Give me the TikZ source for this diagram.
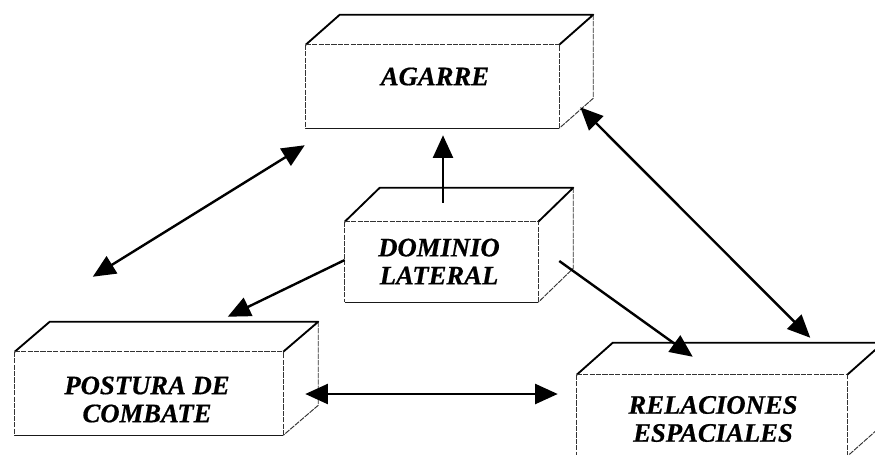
\documentclass[tikz,border=0pt]{standalone}
\usepackage{fontspec}
\setmainfont{Liberation Serif}[BoldItalicFeatures={FakeBold=0.6}]
\usetikzlibrary{arrows.meta,calc}

% Edges of a box: the node is the front face, (#2,#3) is the depth offset
\newcommand\blockedges[3]{%
  \draw[rim] (#1.north west) -- ++(#2,#3) coordinate (#1-btl)
    -- ($(#1.north east)+(#2,#3)$) coordinate (#1-btr) -- (#1.north east);
  \draw[seam] (#1.north west) -- (#1.north east);
  \draw[seam] (#1.north west) -- (#1.south west);
  \draw[base edge] (#1.south west) -- (#1.south east);
  \draw[seam] (#1.south east) -- (#1.north east);
  \draw[seam] (#1-btr) -- ($(#1.south east)+(#2,#3)$) -- (#1.south east);
}

\tikzset{
  face/.style={draw=none, inner sep=0pt, minimum width=#1},
  rim/.style={line width=1.4pt, black, line join=round},
  seam/.style={line width=0.7pt, black!80, dash pattern=on 4pt off 0.8pt},
  base edge/.style={line width=1pt, black!90},
  lbl/.style={font=\fontsize{20}{21}\selectfont\bfseries\itshape, align=center, inner sep=0pt},
  tip/.style={},
  link/.style={line width=1.8pt, -{Triangle[length=17pt,width=15pt]}},
  bilink/.style={line width=1.8pt, {Triangle[length=17pt,width=15pt]}-{Triangle[length=17pt,width=15pt]}},
}

\begin{document}
\begin{tikzpicture}[x=0.75pt, y=-0.75pt]
  \clip (0,0) rectangle (875,454);
  \fill[white] (0,0) rectangle (875,454);

  % front faces of the four boxes
  \node[face=189.75pt, minimum height=62.25pt] (agarre) at (432.5,86.5) {};
  \node[face=144.75pt, minimum height=60pt] (dominio) at (441.5,262) {};
  \node[face=201pt, minimum height=62.25pt] (postura) at (149,393.5) {};
  \node[face=202.5pt, minimum height=60.75pt] (relaciones) at (712,415.5) {};

  \blockedges{agarre}{34}{-30}
  \blockedges{dominio}{35}{-34}
  \blockedges{postura}{35}{-30}
  \blockedges{relaciones}{36}{-32}

  % labels
  \node[lbl] (agarre-t) at (435,76.5) {AGARRE};
  \node[lbl] (dominio-t) at (439,261.5) {DOMINIO\\LATERAL};
  \node[lbl] (postura-t) at (147,399.5) {POSTURA DE\\COMBATE};
  \node[lbl] (relaciones-t) at (713,419) {RELACIONES\\ESPACIALES};

  % connectors
  \draw[bilink] ($(postura.north west)+(78,-75)$) -- ($(agarre.south west)+(-1,17)$);
  \draw[link] ($(dominio.west)+(0,-2)$) -- ($(postura.north west)+(213,-35)$);
  \draw[link] ($(dominio.north)+(1.5,-19)$) -- ($(agarre.south)+(10.5,7)$);
  \draw[link] ($(dominio.east)+(21,-1)$) -- ($(relaciones.north west)+(116,-18)$);
  \draw[bilink] ($(agarre.south east)+(21,-21)$) -- ($(relaciones.north east)+(-37,-37)$);
  \draw[bilink] ($(postura.east)+(22,0.5)$) -- ($(relaciones.west)+(-19,-21.5)$);
\end{tikzpicture}
\end{document}
